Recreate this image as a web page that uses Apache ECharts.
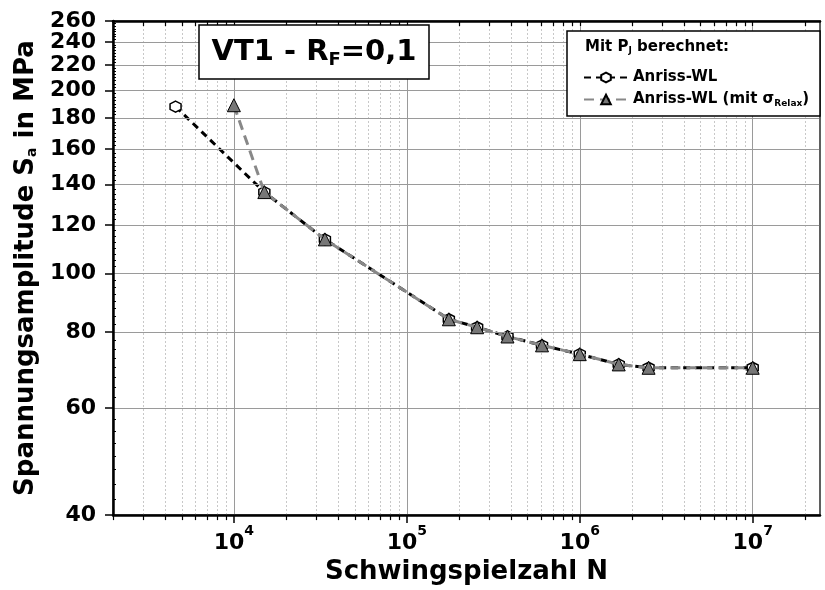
<!DOCTYPE html>
<html><head><meta charset="utf-8">
<script src="https://cdn.jsdelivr.net/npm/echarts@6/dist/echarts.min.js"></script>
<style>html,body{margin:0;padding:0;background:#fff}#c{width:825px;height:590px}</style>
</head><body><div id="c"></div>
<script>
// ---- data ----
const cyclesWL     = [4600, 15000, 33600, 175000, 255000, 382000, 605000, 1000000, 1680000, 2500000, 10000000];
const stressWL     = [188, 136, 113.7, 84.0, 81.5, 78.7, 76.1, 73.6, 70.8, 69.9, 69.9];
const cyclesRelax  = [10000, 15000, 33600, 175000, 255000, 382000, 605000, 1000000, 1680000, 2500000, 10000000];
const stressRelax  = [189, 136, 113.7, 84.0, 81.5, 78.7, 76.1, 73.6, 70.8, 69.9, 69.9];
const yTickValues  = [40, 60, 80, 100, 120, 140, 160, 180, 200, 220, 240, 260];
const xMajorValues = [10000, 100000, 1000000, 10000000];
const seriesNames  = ['Anriss-WL', 'Anriss-WL (mit σRelax)'];

const X_MIN = 2000, X_MAX = 24500000, Y_MIN = 40, Y_MAX = 260.05;

// minor tick positions (2..9 x 10^n) and y minor ticks every 2.5
const xMinorValues = [];
for (let d = 1000; d <= 10000000; d *= 10) {
  for (let m = 2; m <= 9; m++) { const v = m * d; if (v >= X_MIN && v <= X_MAX) xMinorValues.push(v); }
}
const xAllValues = xMinorValues.concat(xMajorValues);
const yMinorValues = [];
for (let v = 42.5; v < 260; v += 2.5) { if (v % 20 !== 0) yMinorValues.push(v); }
// labels split over two overlapping axes so the tightly stacked ones are not hidden
const yLabelsA = yTickValues.filter((v, i) => i % 2 === 0);
const yLabelsB = yTickValues.filter((v, i) => i % 2 === 1);

const FONT = '"DejaVu Sans", Verdana, sans-serif';
const chart = echarts.init(document.getElementById('c'));

function pairs(xs, ys) { return xs.map((x, i) => [x, ys[i]]); }
function supLabel(v) {
  const e = Math.round(Math.log10(v));
  return '{b|10}{s|' + e + '}';
}
const hexagon = 'path://M0,-10 L8.66,-5 L8.66,5 L0,10 L-8.66,5 L-8.66,-5 Z';
const baseX = { type: 'log', logBase: 10, min: X_MIN, max: X_MAX };
const baseY = { type: 'log', logBase: 10, min: Y_MIN, max: Y_MAX };
const yLabelStyle = { showMinLabel: true, showMaxLabel: true, hideOverlap: false,
  fontSize: 22, fontWeight: 'bold', fontFamily: FONT, color: '#000', margin: 17 };

const option = {
  animation: false,
  backgroundColor: '#fff',
  grid: { left: 113, right: 5, top: 21, bottom: 70, show: true, borderColor: '#555', borderWidth: 1.5 },
  xAxis: [Object.assign({}, baseX, {
    position: 'bottom', z: 3,
    axisLine: { lineStyle: { color: '#000', width: 2.5 } },
    axisTick: { show: true, customValues: xMajorValues, length: 8, lineStyle: { color: '#000', width: 1.5 } },
    splitLine: { show: true, lineStyle: { color: '#9a9a9a', width: 1 } },
    axisLabel: {
      customValues: xMajorValues, formatter: supLabel, margin: 9,
      rich: {
        b: { fontSize: 22, fontWeight: 'bold', fontFamily: FONT, color: '#000', padding: [8, 0, 0, 0], verticalAlign: 'bottom' },
        s: { fontSize: 14, fontWeight: 'bold', fontFamily: FONT, color: '#000', verticalAlign: 'top' }
      }
    },
    name: 'Schwingspielzahl N', nameLocation: 'middle', nameGap: 40,
    nameTextStyle: { fontSize: 26, fontWeight: 'bold', fontFamily: FONT, color: '#000' }
  }), Object.assign({}, baseX, {
    position: 'bottom', z: 1,
    axisLine: { show: false },
    axisTick: { show: true, customValues: xMinorValues, length: 5, lineStyle: { color: '#000', width: 1.2 } },
    splitLine: { show: true, lineStyle: { color: '#c8c8c8', width: 1, type: [2, 2] } },
    axisLabel: { show: false }
  }), Object.assign({}, baseX, {
    position: 'top', z: 3,
    axisLine: { lineStyle: { color: '#000', width: 2.5 } },
    axisTick: { show: true, inside: true, customValues: xAllValues, length: 5, lineStyle: { color: '#000', width: 1.2 } },
    axisLabel: { show: false }, splitLine: { show: false }
  })],
  yAxis: [Object.assign({}, baseY, {
    position: 'left', z: 3,
    axisLine: { lineStyle: { color: '#000', width: 2.5 } },
    axisTick: { show: true, customValues: yTickValues, length: 8, lineStyle: { color: '#000', width: 1.5 } },
    axisLabel: Object.assign({ customValues: yLabelsA }, yLabelStyle),
    splitLine: { show: true, lineStyle: { color: '#9a9a9a', width: 1 } },
    name: '{t|Spannungsamplitude S}{s|a}{t| in MPa}', nameLocation: 'middle', nameGap: 66, nameRotate: 90,
    nameTextStyle: {
      rich: {
        t: { fontSize: 26, fontWeight: 'bold', fontFamily: FONT, color: '#000' },
        s: { fontSize: 14, fontWeight: 'bold', fontFamily: FONT, color: '#000', verticalAlign: 'bottom', padding: [10, 0, 0, 0] }
      }
    }
  }), Object.assign({}, baseY, {
    position: 'left', z: 3,
    axisLine: { show: false },
    axisTick: { show: true, inside: true, customValues: yMinorValues, length: 3, lineStyle: { color: '#000', width: 1 } },
    axisLabel: Object.assign({ customValues: yLabelsB }, yLabelStyle),
    splitLine: { show: false }
  }), Object.assign({}, baseY, {
    position: 'right', z: 3,
    axisLine: { lineStyle: { color: '#555', width: 1.5 } },
    axisTick: { show: false }, axisLabel: { show: false }, splitLine: { show: false }
  })],
  legend: {
    orient: 'vertical', left: 583, top: 70, itemWidth: 44, itemHeight: 12, itemGap: 7,
    padding: 0, z: 10,
    data: seriesNames,
    formatter: function (name) {
      return name === seriesNames[1] ? '{t|Anriss-WL (mit σ}{sub|Relax}{t|)}' : '{t|' + name + '}';
    },
    textStyle: {
      rich: {
        t: { fontSize: 15, fontWeight: 'bold', fontFamily: FONT, color: '#000' },
        sub: { fontSize: 9, fontWeight: 'bold', fontFamily: FONT, color: '#000', verticalAlign: 'bottom', padding: [8, 0, 0, 0] }
      }
    }
  },
  graphic: [
    { type: 'rect', z: 5, shape: { x: 199, y: 25, width: 230, height: 54 }, style: { fill: '#fff', stroke: '#000', lineWidth: 1.5 } },
    { type: 'text', z: 6, x: 314, y: 52, style: {
        text: '{a|VT1 - R}{s|F}{a|=0,1}', align: 'center', verticalAlign: 'middle',
        rich: {
          a: { fontSize: 29, fontWeight: 'bold', fontFamily: FONT, fill: '#000' },
          s: { fontSize: 18, fontWeight: 'bold', fontFamily: FONT, fill: '#000', verticalAlign: 'bottom', padding: [16, 0, 0, 0] }
        } } },
    { type: 'rect', z: 5, shape: { x: 567, y: 31, width: 253, height: 85 }, style: { fill: '#fff', stroke: '#000', lineWidth: 1.5 } },
    { type: 'text', z: 11, x: 585, y: 47, style: {
        text: '{a|Mit P}{s|J}{a| berechnet:}', align: 'left', verticalAlign: 'middle',
        rich: {
          a: { fontSize: 15, fontWeight: 'bold', fontFamily: FONT, fill: '#000' },
          s: { fontSize: 9, fontWeight: 'bold', fontFamily: FONT, fill: '#000', verticalAlign: 'bottom', padding: [8, 0, 0, 0] }
        } } }
  ],
  series: [{
    name: seriesNames[0], type: 'line', data: pairs(cyclesWL, stressWL),
    xAxisIndex: 0, yAxisIndex: 0,
    symbol: hexagon, symbolSize: 11,
    itemStyle: { color: '#fff', borderColor: '#000', borderWidth: 1.5 },
    lineStyle: { color: '#000', width: 3, type: [7, 5] }, z: 2
  }, {
    name: seriesNames[1], type: 'line', data: pairs(cyclesRelax, stressRelax),
    xAxisIndex: 0, yAxisIndex: 0,
    symbol: 'triangle', symbolSize: 13,
    itemStyle: { color: '#777', borderColor: '#000', borderWidth: 1 },
    lineStyle: { color: '#888', width: 3, type: [10, 6] }, z: 3
  }]
};
chart.setOption(option);
</script></body></html>
